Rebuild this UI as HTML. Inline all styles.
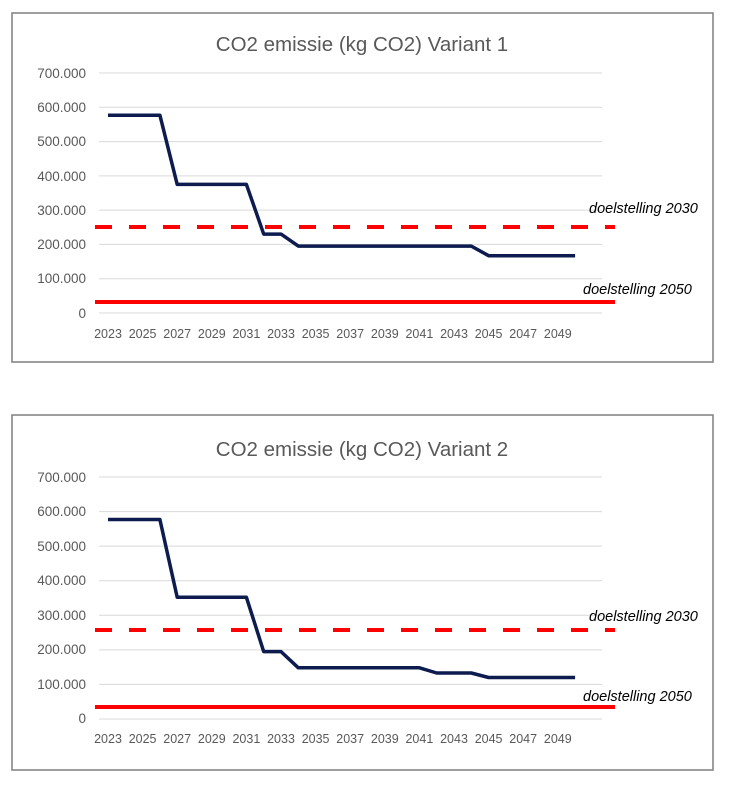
<!DOCTYPE html>
<html><head><style>
html,body{margin:0;padding:0;background:#fff;}
svg{display:block;font-family:"Liberation Sans",sans-serif;}
</style></head><body>
<svg width="731" height="788" viewBox="0 0 731 788" xmlns="http://www.w3.org/2000/svg">
<rect x="12" y="13" width="701" height="349" fill="#fff" stroke="#7f7f7f" stroke-width="1.5"/>
<rect x="12" y="415" width="701" height="355" fill="#fff" stroke="#7f7f7f" stroke-width="1.5"/>

<!-- Chart 1 -->
<text x="362" y="51" text-anchor="middle" font-size="20.5" fill="#595959">CO2 emissie (kg CO2) Variant 1</text>
<g stroke="#d9d9d9" stroke-width="1">
<line x1="99" x2="602" y1="73" y2="73"/><line x1="99" x2="602" y1="107.3" y2="107.3"/>
<line x1="99" x2="602" y1="141.6" y2="141.6"/><line x1="99" x2="602" y1="175.9" y2="175.9"/>
<line x1="99" x2="602" y1="210.1" y2="210.1"/><line x1="99" x2="602" y1="244.4" y2="244.4"/>
<line x1="99" x2="602" y1="278.7" y2="278.7"/><line x1="99" x2="602" y1="313" y2="313"/>
</g>
<g font-size="13.5" fill="#595959" text-anchor="end">
<text x="86" y="78">700.000</text><text x="86" y="112">600.000</text><text x="86" y="146">500.000</text>
<text x="86" y="181">400.000</text><text x="86" y="215">300.000</text><text x="86" y="249">200.000</text>
<text x="86" y="283">100.000</text><text x="86" y="318">0</text>
</g>
<g font-size="12.5" fill="#595959" text-anchor="middle">
<text x="108" y="338">2023</text><text x="142.6" y="338">2025</text><text x="177.2" y="338">2027</text>
<text x="211.8" y="338">2029</text><text x="246.4" y="338">2031</text><text x="281" y="338">2033</text>
<text x="315.6" y="338">2035</text><text x="350.2" y="338">2037</text><text x="384.8" y="338">2039</text>
<text x="419.4" y="338">2041</text><text x="454" y="338">2043</text><text x="488.6" y="338">2045</text>
<text x="523.2" y="338">2047</text><text x="557.8" y="338">2049</text>
</g>
<line x1="95" x2="615" y1="227" y2="227" stroke="#ff0000" stroke-width="4" stroke-dasharray="17,17"/>
<line x1="95" x2="615" y1="302" y2="302" stroke="#ff0000" stroke-width="4"/>
<polyline fill="none" stroke="#0d1b4f" stroke-width="3.5" stroke-linejoin="round" points="108,115.2 159.9,115.2 177.2,184.4 246.4,184.4 263.7,234.1 281,234.1 298.3,246.1 471.3,246.1 488.6,255.7 575.1,255.7"/>
<text x="589" y="213" font-size="14.5" font-style="italic" fill="#000">doelstelling 2030</text>
<text x="583" y="294" font-size="14.5" font-style="italic" fill="#000">doelstelling 2050</text>

<!-- Chart 2 -->
<text x="362" y="456" text-anchor="middle" font-size="20.5" fill="#595959">CO2 emissie (kg CO2) Variant 2</text>
<g stroke="#d9d9d9" stroke-width="1">
<line x1="99" x2="602" y1="477" y2="477"/><line x1="99" x2="602" y1="511.6" y2="511.6"/>
<line x1="99" x2="602" y1="546.1" y2="546.1"/><line x1="99" x2="602" y1="580.7" y2="580.7"/>
<line x1="99" x2="602" y1="615.3" y2="615.3"/><line x1="99" x2="602" y1="649.9" y2="649.9"/>
<line x1="99" x2="602" y1="684.4" y2="684.4"/><line x1="99" x2="602" y1="719" y2="719"/>
</g>
<g font-size="13.5" fill="#595959" text-anchor="end">
<text x="86" y="482">700.000</text><text x="86" y="516">600.000</text><text x="86" y="551">500.000</text>
<text x="86" y="585">400.000</text><text x="86" y="620">300.000</text><text x="86" y="654">200.000</text>
<text x="86" y="689">100.000</text><text x="86" y="723">0</text>
</g>
<g font-size="12.5" fill="#595959" text-anchor="middle">
<text x="108" y="743">2023</text><text x="142.6" y="743">2025</text><text x="177.2" y="743">2027</text>
<text x="211.8" y="743">2029</text><text x="246.4" y="743">2031</text><text x="281" y="743">2033</text>
<text x="315.6" y="743">2035</text><text x="350.2" y="743">2037</text><text x="384.8" y="743">2039</text>
<text x="419.4" y="743">2041</text><text x="454" y="743">2043</text><text x="488.6" y="743">2045</text>
<text x="523.2" y="743">2047</text><text x="557.8" y="743">2049</text>
</g>
<line x1="95" x2="615" y1="630" y2="630" stroke="#ff0000" stroke-width="4" stroke-dasharray="17,17"/>
<line x1="95" x2="615" y1="707" y2="707" stroke="#ff0000" stroke-width="4"/>
<polyline fill="none" stroke="#0d1b4f" stroke-width="3.5" stroke-linejoin="round" points="108,519.5 159.9,519.5 177.2,597.3 246.4,597.3 263.7,651.6 281,651.6 298.3,667.8 419.4,667.8 436.7,673 471.3,673 488.6,677.5 575.1,677.5"/>
<text x="589" y="621" font-size="14.5" font-style="italic" fill="#000">doelstelling 2030</text>
<text x="583" y="701" font-size="14.5" font-style="italic" fill="#000">doelstelling 2050</text>
</svg>
</body></html>
